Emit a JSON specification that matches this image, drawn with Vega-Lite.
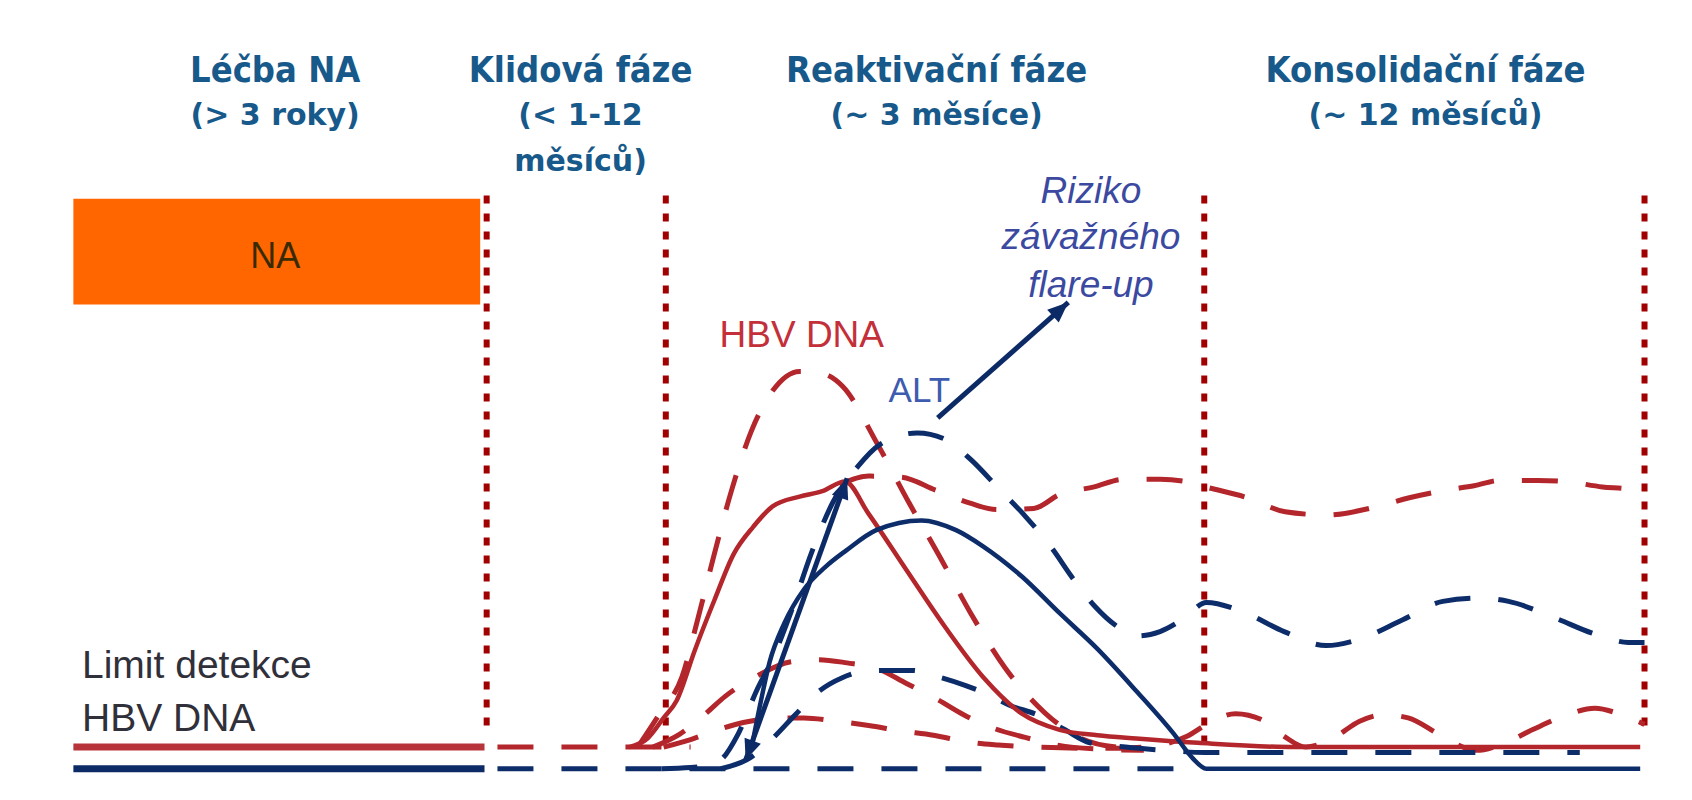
{
  "$schema": "https://vega.github.io/schema/vega-lite/v6.json",
  "width": 1692,
  "height": 800,
  "autosize": {"type": "fit", "contains": "padding"},
  "padding": 0,
  "background": "white",
  "config": {"view": {"stroke": null}},
  "datasets": {
    "box": [{"x": 68, "x2": 445, "y": 184, "y2": 282}],
    "dotted": [
      {"x": 451, "y": 181, "y2": 680},
      {"x": 617, "y": 181, "y2": 688},
      {"x": 1116, "y": 181, "y2": 690},
      {"x": 1524, "y": 181, "y2": 680}
    ],
    "limits": [
      {"c": "dna", "x": 68, "y": 692}, {"c": "dna", "x": 449, "y": 692},
      {"c": "alt", "x": 68, "y": 712}, {"c": "alt", "x": 449, "y": 712}
    ],
    "dna_solid": [
      {"c": "S", "x": 583, "y": 692}, {"c": "S", "x": 600, "y": 684}, {"c": "S", "x": 615, "y": 665},
      {"c": "S", "x": 627, "y": 649}, {"c": "S", "x": 644, "y": 602}, {"c": "S", "x": 662, "y": 556},
      {"c": "S", "x": 680, "y": 513}, {"c": "S", "x": 698, "y": 488}, {"c": "S", "x": 716, "y": 469},
      {"c": "S", "x": 741, "y": 460}, {"c": "S", "x": 762, "y": 455}, {"c": "S", "x": 783, "y": 446},
      {"c": "S", "x": 805, "y": 476}, {"c": "S", "x": 840, "y": 528}, {"c": "S", "x": 876, "y": 581},
      {"c": "S", "x": 911, "y": 627}, {"c": "S", "x": 947, "y": 661}, {"c": "S", "x": 982, "y": 676},
      {"c": "S", "x": 1017, "y": 681}, {"c": "S", "x": 1053, "y": 684}, {"c": "S", "x": 1110, "y": 688},
      {"c": "S", "x": 1200, "y": 692}, {"c": "S", "x": 1520, "y": 692}
    ],
    "alt_solid": [
      {"c": "S", "x": 697, "y": 690}, {"c": "S", "x": 705, "y": 650}, {"c": "S", "x": 713, "y": 614},
      {"c": "S", "x": 727, "y": 577}, {"c": "S", "x": 745, "y": 546}, {"c": "S", "x": 765, "y": 525},
      {"c": "S", "x": 784, "y": 510}, {"c": "S", "x": 812, "y": 491}, {"c": "S", "x": 854, "y": 482},
      {"c": "S", "x": 886, "y": 491}, {"c": "S", "x": 911, "y": 506}, {"c": "S", "x": 947, "y": 534},
      {"c": "S", "x": 982, "y": 568}, {"c": "S", "x": 1017, "y": 601}, {"c": "S", "x": 1053, "y": 640},
      {"c": "S", "x": 1088, "y": 680}, {"c": "S", "x": 1105, "y": 702}, {"c": "S", "x": 1118, "y": 712},
      {"c": "S", "x": 1520, "y": 712}
    ],
    "dna_dashed": [
      {"c": "R0", "x": 461, "y": 692}, {"c": "R0", "x": 640, "y": 692},
      {"c": "R1", "x": 591, "y": 692}, {"c": "R1", "x": 612, "y": 660}, {"c": "R1", "x": 632, "y": 627},
      {"c": "R1", "x": 647, "y": 572}, {"c": "R1", "x": 662, "y": 513}, {"c": "R1", "x": 678, "y": 454},
      {"c": "R1", "x": 696, "y": 400}, {"c": "R1", "x": 716, "y": 362}, {"c": "R1", "x": 741, "y": 344},
      {"c": "R1", "x": 762, "y": 346}, {"c": "R1", "x": 781, "y": 358}, {"c": "R1", "x": 813, "y": 411},
      {"c": "R1", "x": 842, "y": 465}, {"c": "R1", "x": 870, "y": 514}, {"c": "R1", "x": 899, "y": 567},
      {"c": "R1", "x": 931, "y": 618}, {"c": "R1", "x": 968, "y": 660}, {"c": "R1", "x": 1000, "y": 683},
      {"c": "R1", "x": 1036, "y": 692}, {"c": "R1", "x": 1060, "y": 693},
      {"c": "R2", "x": 778, "y": 449}, {"c": "R2", "x": 805, "y": 441}, {"c": "R2", "x": 835, "y": 442},
      {"c": "R2", "x": 867, "y": 454}, {"c": "R2", "x": 899, "y": 466}, {"c": "R2", "x": 924, "y": 472},
      {"c": "R2", "x": 958, "y": 471}, {"c": "R2", "x": 982, "y": 458}, {"c": "R2", "x": 1014, "y": 451},
      {"c": "R2", "x": 1041, "y": 444}, {"c": "R2", "x": 1075, "y": 444}, {"c": "R2", "x": 1099, "y": 446},
      {"c": "R2", "x": 1117, "y": 451}, {"c": "R2", "x": 1156, "y": 461}, {"c": "R2", "x": 1191, "y": 474},
      {"c": "R2", "x": 1230, "y": 477}, {"c": "R2", "x": 1273, "y": 470}, {"c": "R2", "x": 1306, "y": 461},
      {"c": "R2", "x": 1340, "y": 454}, {"c": "R2", "x": 1366, "y": 450}, {"c": "R2", "x": 1390, "y": 445},
      {"c": "R2", "x": 1425, "y": 445}, {"c": "R2", "x": 1451, "y": 446}, {"c": "R2", "x": 1485, "y": 451},
      {"c": "R2", "x": 1510, "y": 453}, {"c": "R2", "x": 1524, "y": 459},
      {"c": "R3", "x": 605, "y": 692}, {"c": "R3", "x": 630, "y": 680}, {"c": "R3", "x": 655, "y": 660},
      {"c": "R3", "x": 672, "y": 645}, {"c": "R3", "x": 700, "y": 627}, {"c": "R3", "x": 733, "y": 613},
      {"c": "R3", "x": 758, "y": 611}, {"c": "R3", "x": 785, "y": 614}, {"c": "R3", "x": 812, "y": 619},
      {"c": "R3", "x": 840, "y": 633}, {"c": "R3", "x": 869, "y": 648}, {"c": "R3", "x": 893, "y": 662},
      {"c": "R3", "x": 922, "y": 675}, {"c": "R3", "x": 950, "y": 683}, {"c": "R3", "x": 979, "y": 690},
      {"c": "R3", "x": 1020, "y": 694}, {"c": "R3", "x": 1060, "y": 695},
      {"c": "R4", "x": 615, "y": 692}, {"c": "R4", "x": 640, "y": 685}, {"c": "R4", "x": 665, "y": 676},
      {"c": "R4", "x": 690, "y": 669}, {"c": "R4", "x": 720, "y": 665}, {"c": "R4", "x": 745, "y": 665},
      {"c": "R4", "x": 775, "y": 668}, {"c": "R4", "x": 805, "y": 672}, {"c": "R4", "x": 835, "y": 677},
      {"c": "R4", "x": 865, "y": 681}, {"c": "R4", "x": 895, "y": 687}, {"c": "R4", "x": 925, "y": 690},
      {"c": "R4", "x": 960, "y": 692}, {"c": "R4", "x": 1000, "y": 693}, {"c": "R4", "x": 1040, "y": 693},
      {"c": "R4", "x": 1075, "y": 690}, {"c": "R4", "x": 1100, "y": 682}, {"c": "R4", "x": 1120, "y": 670},
      {"c": "R4", "x": 1145, "y": 661}, {"c": "R4", "x": 1170, "y": 667}, {"c": "R4", "x": 1190, "y": 682},
      {"c": "R4", "x": 1210, "y": 692}, {"c": "R4", "x": 1235, "y": 684}, {"c": "R4", "x": 1260, "y": 668},
      {"c": "R4", "x": 1282, "y": 662}, {"c": "R4", "x": 1305, "y": 665}, {"c": "R4", "x": 1335, "y": 681},
      {"c": "R4", "x": 1368, "y": 695}, {"c": "R4", "x": 1395, "y": 688}, {"c": "R4", "x": 1420, "y": 676},
      {"c": "R4", "x": 1450, "y": 663}, {"c": "R4", "x": 1478, "y": 656}, {"c": "R4", "x": 1500, "y": 661},
      {"c": "R4", "x": 1524, "y": 671}
    ],
    "alt_dashed": [
      {"c": "B0", "x": 461, "y": 712}, {"c": "B0", "x": 1090, "y": 712},
      {"c": "B1", "x": 613, "y": 712}, {"c": "B1", "x": 640, "y": 711}, {"c": "B1", "x": 666, "y": 705},
      {"c": "B1", "x": 684, "y": 680}, {"c": "B1", "x": 701, "y": 640}, {"c": "B1", "x": 716, "y": 610},
      {"c": "B1", "x": 733, "y": 567}, {"c": "B1", "x": 752, "y": 512}, {"c": "B1", "x": 772, "y": 465},
      {"c": "B1", "x": 795, "y": 432}, {"c": "B1", "x": 815, "y": 412}, {"c": "B1", "x": 850, "y": 401},
      {"c": "B1", "x": 876, "y": 407}, {"c": "B1", "x": 900, "y": 426}, {"c": "B1", "x": 925, "y": 452},
      {"c": "B1", "x": 950, "y": 478}, {"c": "B1", "x": 975, "y": 508}, {"c": "B1", "x": 993, "y": 534},
      {"c": "B1", "x": 1015, "y": 562}, {"c": "B1", "x": 1035, "y": 580}, {"c": "B1", "x": 1055, "y": 589},
      {"c": "B1", "x": 1075, "y": 585}, {"c": "B1", "x": 1097, "y": 573}, {"c": "B1", "x": 1118, "y": 558},
      {"c": "B1", "x": 1150, "y": 566}, {"c": "B1", "x": 1190, "y": 585}, {"c": "B1", "x": 1229, "y": 598},
      {"c": "B1", "x": 1260, "y": 592}, {"c": "B1", "x": 1300, "y": 574}, {"c": "B1", "x": 1337, "y": 557},
      {"c": "B1", "x": 1370, "y": 554}, {"c": "B1", "x": 1398, "y": 557}, {"c": "B1", "x": 1440, "y": 572},
      {"c": "B1", "x": 1480, "y": 588}, {"c": "B1", "x": 1509, "y": 595}, {"c": "B1", "x": 1524, "y": 595},
      {"c": "B2", "x": 668, "y": 712}, {"c": "B2", "x": 695, "y": 702}, {"c": "B2", "x": 715, "y": 685},
      {"c": "B2", "x": 737, "y": 662}, {"c": "B2", "x": 758, "y": 641}, {"c": "B2", "x": 780, "y": 628},
      {"c": "B2", "x": 800, "y": 622}, {"c": "B2", "x": 820, "y": 621}, {"c": "B2", "x": 845, "y": 621},
      {"c": "B2", "x": 870, "y": 627}, {"c": "B2", "x": 895, "y": 635}, {"c": "B2", "x": 915, "y": 643},
      {"c": "B2", "x": 935, "y": 653}, {"c": "B2", "x": 961, "y": 662}, {"c": "B2", "x": 987, "y": 676},
      {"c": "B2", "x": 1010, "y": 688}, {"c": "B2", "x": 1043, "y": 692}, {"c": "B2", "x": 1080, "y": 695},
      {"c": "B2", "x": 1117, "y": 697}, {"c": "B2", "x": 1300, "y": 697}, {"c": "B2", "x": 1464, "y": 697}
    ],
    "arrows": [
      {"a": "lower", "x": 691, "y": 704, "x2": 785, "y2": 443},
      {"a": "upper", "x": 869, "y": 387, "x2": 990, "y2": 280}
    ],
    "labels": [
      {"g": "title", "t": "Léčba NA", "x": 255, "y": 76},
      {"g": "title", "t": "Klidová fáze", "x": 538, "y": 76},
      {"g": "title", "t": "Reaktivační fáze", "x": 868, "y": 76},
      {"g": "title", "t": "Konsolidační fáze", "x": 1321, "y": 76},
      {"g": "sub", "t": "(> 3 roky)", "x": 255, "y": 116},
      {"g": "sub", "t": "(< 1-12", "x": 538, "y": 116},
      {"g": "sub", "t": "měsíců)", "x": 538, "y": 158},
      {"g": "sub", "t": "(~ 3 měsíce)", "x": 868, "y": 116},
      {"g": "sub", "t": "(~ 12 měsíců)", "x": 1321, "y": 116},
      {"g": "box", "t": "NA", "x": 255, "y": 248},
      {"g": "limit", "t": "Limit detekce", "x": 76, "y": 628},
      {"g": "limit", "t": "HBV DNA", "x": 76, "y": 677},
      {"g": "dna", "t": "HBV DNA", "x": 743, "y": 321},
      {"g": "alt", "t": "ALT", "x": 852, "y": 372},
      {"g": "risk", "t": "Riziko", "x": 1011, "y": 188},
      {"g": "risk", "t": "závažného", "x": 1011, "y": 231},
      {"g": "risk", "t": "flare-up", "x": 1011, "y": 275}
    ]
  },
  "encoding": {
    "x": {"field": "x", "type": "quantitative", "axis": null,
          "scale": {"domain": [0, 1568], "nice": false, "zero": false}},
    "y": {"field": "y", "type": "quantitative", "axis": null,
          "scale": {"domain": [0, 741], "reverse": true, "nice": false, "zero": false}}
  },
  "layer": [
    {
      "data": {"name": "box"},
      "mark": {"type": "rect", "color": "#ff6600"},
      "encoding": {"x2": {"field": "x2"}, "y2": {"field": "y2"}}
    },
    {
      "data": {"name": "dotted"},
      "mark": {"type": "rule", "color": "#a00000", "strokeWidth": 6, "strokeDash": [8, 10]},
      "encoding": {"y2": {"field": "y2"}}
    },
    {
      "data": {"name": "limits"},
      "transform": [{"filter": "datum.c == 'dna'"}],
      "mark": {"type": "line", "color": "#b8343b", "strokeWidth": 7},
      "encoding": {"detail": {"field": "c"}}
    },
    {
      "data": {"name": "limits"},
      "transform": [{"filter": "datum.c == 'alt'"}],
      "mark": {"type": "line", "color": "#0c2a66", "strokeWidth": 7},
      "encoding": {"detail": {"field": "c"}}
    },
    {
      "data": {"name": "dna_dashed"},
      "mark": {"type": "line", "color": "#b3262b", "strokeWidth": 5, "strokeDash": [36, 28], "interpolate": "monotone"},
      "encoding": {"detail": {"field": "c"}}
    },
    {
      "data": {"name": "alt_dashed"},
      "mark": {"type": "line", "color": "#0c2c6a", "strokeWidth": 5, "strokeDash": [36, 28], "interpolate": "monotone"},
      "encoding": {"detail": {"field": "c"}}
    },
    {
      "data": {"name": "dna_solid"},
      "mark": {"type": "line", "color": "#b3262b", "strokeWidth": 4.5, "interpolate": "monotone"},
      "encoding": {"detail": {"field": "c"}}
    },
    {
      "data": {"name": "alt_solid"},
      "mark": {"type": "line", "color": "#0c2c6a", "strokeWidth": 4.5, "interpolate": "monotone"},
      "encoding": {"detail": {"field": "c"}}
    },
    {
      "data": {"name": "arrows"},
      "mark": {"type": "rule", "color": "#0c2a66", "strokeWidth": 5},
      "encoding": {"x2": {"field": "x2"}, "y2": {"field": "y2"}}
    },
    {
      "data": {"name": "arrows"},
      "transform": [{"filter": "datum.a == 'lower'"}],
      "mark": {"type": "point", "shape": "M0,0L-0.42,1L0.42,1Z", "filled": true, "opacity": 1, "color": "#0c2a66", "size": 1700, "angle": 20},
      "encoding": {"x": {"field": "x2"}, "y": {"field": "y2"}}
    },
    {
      "data": {"name": "arrows"},
      "transform": [{"filter": "datum.a == 'lower'"}],
      "mark": {"type": "point", "shape": "M0,0L-0.42,1L0.42,1Z", "filled": true, "opacity": 1, "color": "#0c2a66", "size": 1700, "angle": 200}
    },
    {
      "data": {"name": "arrows"},
      "transform": [{"filter": "datum.a == 'upper'"}],
      "mark": {"type": "point", "shape": "M0,0L-0.42,1L0.42,1Z", "filled": true, "opacity": 1, "color": "#0c2a66", "size": 1700, "angle": 48},
      "encoding": {"x": {"field": "x2"}, "y": {"field": "y2"}}
    },
    {
      "data": {"name": "labels"},
      "transform": [{"filter": "datum.g == 'title'"}],
      "mark": {"type": "text", "font": "'Liberation Sans Narrow', 'DejaVu Sans Condensed', sans-serif", "fontWeight": "bold", "fontSize": 36, "color": "#17598a", "align": "center", "baseline": "alphabetic"},
      "encoding": {"text": {"field": "t"}}
    },
    {
      "data": {"name": "labels"},
      "transform": [{"filter": "datum.g == 'sub'"}],
      "mark": {"type": "text", "font": "DejaVu Sans", "fontWeight": "bold", "fontSize": 30, "color": "#17598a", "align": "center", "baseline": "alphabetic"},
      "encoding": {"text": {"field": "t"}}
    },
    {
      "data": {"name": "labels"},
      "transform": [{"filter": "datum.g == 'box'"}],
      "mark": {"type": "text", "font": "Liberation Sans", "fontSize": 36, "color": "#3a2a00", "align": "center", "baseline": "alphabetic"},
      "encoding": {"text": {"field": "t"}}
    },
    {
      "data": {"name": "labels"},
      "transform": [{"filter": "datum.g == 'limit'"}],
      "mark": {"type": "text", "font": "Liberation Sans", "fontSize": 39, "color": "#30303a", "align": "left", "baseline": "alphabetic"},
      "encoding": {"text": {"field": "t"}}
    },
    {
      "data": {"name": "labels"},
      "transform": [{"filter": "datum.g == 'dna'"}],
      "mark": {"type": "text", "font": "Liberation Sans", "fontSize": 37, "color": "#c4303a", "align": "center", "baseline": "alphabetic"},
      "encoding": {"text": {"field": "t"}}
    },
    {
      "data": {"name": "labels"},
      "transform": [{"filter": "datum.g == 'alt'"}],
      "mark": {"type": "text", "font": "Liberation Sans", "fontSize": 35, "color": "#3d5cb0", "align": "center", "baseline": "alphabetic"},
      "encoding": {"text": {"field": "t"}}
    },
    {
      "data": {"name": "labels"},
      "transform": [{"filter": "datum.g == 'risk'"}],
      "mark": {"type": "text", "font": "Liberation Sans", "fontStyle": "italic", "fontSize": 37, "color": "#3b4aa0", "align": "center", "baseline": "alphabetic"},
      "encoding": {"text": {"field": "t"}}
    }
  ]
}
